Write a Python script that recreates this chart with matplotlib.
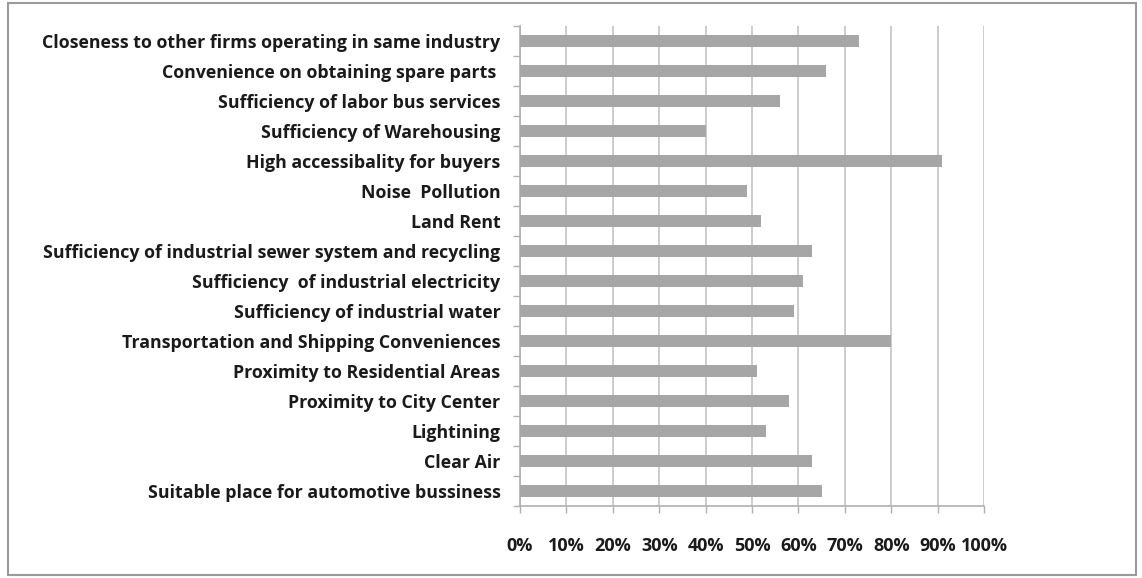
import matplotlib
matplotlib.use("Agg")
import matplotlib.pyplot as plt
from matplotlib.patches import Rectangle
from matplotlib.ticker import FixedLocator, PercentFormatter

# factors, top to bottom as shown in the chart
factors = [
    "Closeness to other firms operating in same industry",
    "Convenience on obtaining spare parts ",
    "Sufficiency of labor bus services",
    "Sufficiency of Warehousing",
    "High accessibality for buyers",
    "Noise  Pollution",
    "Land Rent",
    "Sufficiency of industrial sewer system and recycling",
    "Sufficiency  of industrial electricity",
    "Sufficiency of industrial water",
    "Transportation and Shipping Conveniences",
    "Proximity to Residential Areas",
    "Proximity to City Center",
    "Lightining",
    "Clear Air",
    "Suitable place for automotive bussiness",
]
shares = [73, 66, 56, 40, 91, 49, 52, 63, 61, 59, 80, 51, 58, 53, 63, 65]
x_ticks = [0, 10, 20, 30, 40, 50, 60, 70, 80, 90, 100]

plt.rcParams["font.family"] = ["Open Sans", "DejaVu Sans"]

W, H = 1142, 578
fig = plt.figure(figsize=(W / 100, H / 100), dpi=100)
ax = fig.add_axes([520 / W, 1 - 506 / H, (984 - 520) / W, (506 - 26) / H])

pos = list(range(len(factors)))
ax.barh(pos, shares, height=0.37, color="#a6a6a6", zorder=3)

ax.set_xlim(0, 100)
ax.set_ylim(len(factors) - 0.5, -0.5)

ax.xaxis.set_major_locator(FixedLocator(x_ticks))
ax.xaxis.set_major_formatter(PercentFormatter(decimals=0))
ax.grid(axis="x", color="#c4c4c4", linewidth=1.2, zorder=0)

ax.set_yticks(pos)
ax.set_yticklabels(factors, fontsize=12.8, fontweight="bold", color="#1a1a1a")
ax.set_yticks([p - 0.5 for p in pos] + [len(factors) - 0.5], minor=True)
ax.tick_params(axis="y", which="major", length=0, pad=14)
ax.tick_params(axis="y", which="minor", length=5, color="#b0b0b0", width=1)
ax.tick_params(axis="x", length=5, color="#b0b0b0", width=1, pad=17,
               labelsize=13, labelcolor="#1a1a1a")
for lab in ax.get_xticklabels():
    lab.set_fontweight("bold")

for side in ["top", "right"]:
    ax.spines[side].set_visible(False)
for side in ["left", "bottom"]:
    ax.spines[side].set_color("#b0b0b0")
    ax.spines[side].set_linewidth(1.2)

# outer frame of the chart area
fig.patches.append(Rectangle((8 / W, 3 / H), (1136 - 8) / W, (575 - 3) / H,
                             transform=fig.transFigure, fill=False,
                             edgecolor="#9a9a9a", linewidth=1.5))

fig.savefig("out.png", dpi=100)
